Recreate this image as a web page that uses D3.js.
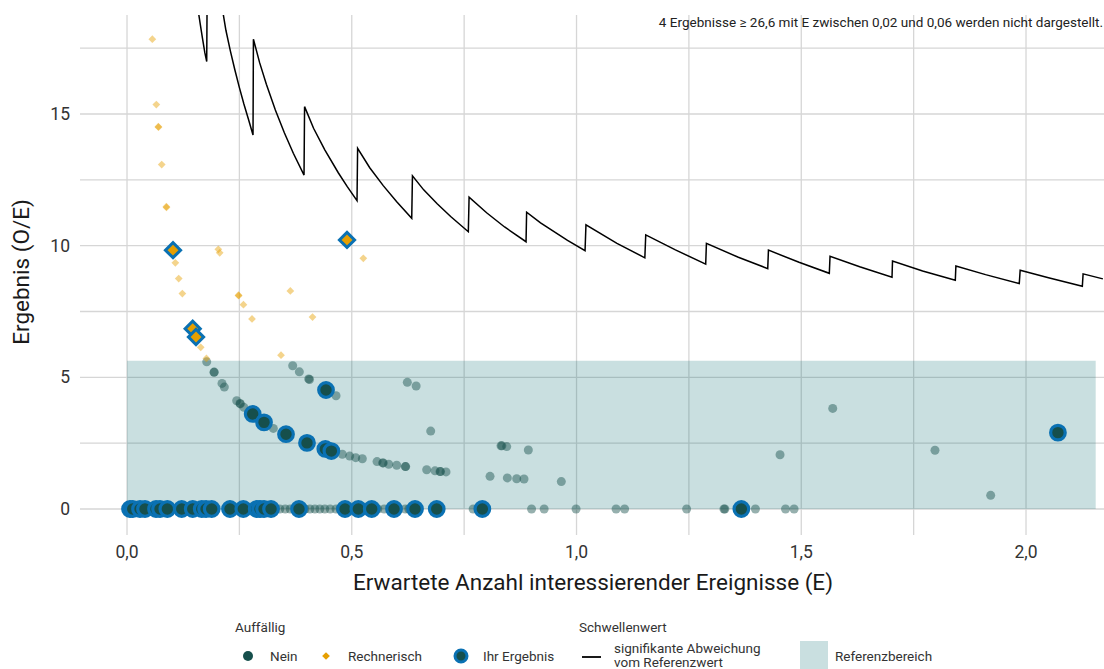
<!DOCTYPE html>
<html><head><meta charset="utf-8">
<script src="https://cdn.jsdelivr.net/npm/d3@7"></script>
<style>
html,body{margin:0;padding:0;background:#fff;}
svg{display:block;font-family:Roboto,"Noto Sans",sans-serif;}
</style></head>
<body><div id="chart"></div>
<script>
// ---------- DATA ----------
const xTicks = [0, 0.5, 1, 1.5, 2];
const xTickLabels = ["0,0", "0,5", "1,0", "1,5", "2,0"];
const yTicks = [0, 5, 10, 15];
const yTickLabels = ["0", "5", "10", "15"];
const xMinor = [0.25, 0.75, 1.25, 1.75];
const yMinor = [2.5, 7.5, 12.5, 17.5];

// Referenzbereich
const refRange = [0, 5.63];
const refE = [0, 2.155];

// Auffällig: Nein (other hospitals, faded)
const neinE = [0.329,0.340,0.352,0.363,0.376,0.396,0.407,0.418,0.429,0.440,0.452,0.465,0.474,0.558,0.572,0.619,0.627,0.770,0.900,0.928,0.999,1.088,1.107,1.245,1.328,1.330,1.398,1.465,1.484,
  0.1773,0.1935,0.1940,0.2113,0.2165,0.244,0.2514,0.2520,0.2600,0.3255,0.3686,0.3834,0.4042,0.4060,0.465,0.479,0.4954,0.5088,0.5235,0.5562,0.5688,0.5700,0.5822,0.600,0.6191,0.6200,0.6236,0.6432,0.6667,0.6852,0.6963,0.6975,0.7097,0.6756,0.8076,0.832,0.834,0.8447,0.8928,0.8461,0.8669,0.8832,0.9662,1.4528,1.570,1.7975,1.9214];
const neinV = [0,0,0,0,0,0,0,0,0,0,0,0,0,0,0,0,0,0,0,0,0,0,0,0,0,0,0,0,0,
  5.59,5.19,5.20,4.77,4.63,4.11,4.01,3.99,3.86,3.06,5.44,5.21,4.94,4.92,4.30,2.08,2.01,1.95,1.91,1.80,1.75,1.75,1.70,1.66,1.61,1.61,4.81,4.67,1.49,1.45,1.42,1.42,1.41,2.96,1.24,2.40,2.40,2.37,2.24,1.18,1.15,1.14,1.04,2.06,3.82,2.23,0.52];

// Auffällig: Rechnerisch (other hospitals, faded)
const rechE = [0.0563,0.0652,0.0697,0.0700,0.0772,0.0875,0.0878,0.1075,0.115,0.1231,0.2031,0.2062,0.2479,0.2485,0.259,0.2781,0.3633,0.4127,0.3426,0.5257,0.1640,0.1766];
const rechV = [17.84,15.36,14.52,14.50,13.08,11.48,11.45,9.35,8.75,8.18,9.86,9.73,8.12,8.10,7.76,7.22,8.28,7.29,5.84,9.52,6.14,5.72];

// Ihr Ergebnis (highlighted)
const ihrNeinE = [0.0067,0.0127,0.0289,0.0400,0.0645,0.0734,0.0897,0.1217,0.1462,0.1662,0.1758,0.1884,0.2291,0.2587,0.2885,0.2959,0.3048,0.3204,0.3826,0.4850,0.5146,0.5444,0.5940,0.6407,0.6890,0.7905,1.3667,
  0.2796,0.3048,0.3537,0.4004,0.4412,0.4546,0.4427,2.071];
const ihrNeinV = [0,0,0,0,0,0,0,0,0,0,0,0,0,0,0,0,0,0,0,0,0,0,0,0,0,0,0,
  3.61,3.29,2.84,2.51,2.28,2.20,4.52,2.90];
const ihrRechE = [0.1023,0.4894,0.1461,0.1535];
const ihrRechV = [9.83,10.22,6.85,6.53];

// Schwellenwert (sawtooth line), NaN = break
const threshE = [0.1586,0.163,0.168,0.173,0.1773,0.1780,NaN,
  0.2130,0.22,0.23,0.24,0.25,0.26,0.27,0.2803,
  0.2812,0.295,0.31,0.33,0.35,0.37,0.3938,
  0.3950,0.415,0.44,0.47,0.49,0.5117,
  0.513,0.54,0.57,0.60,0.6334,
  0.635,0.66,0.69,0.72,0.7593,
  0.761,0.80,0.84,0.8877,
  0.889,0.92,0.95,0.98,1.019,
  1.021,1.09,1.152,1.154,1.22,1.2874,1.289,1.36,1.4254,1.427,1.495,1.5624,1.564,1.63,1.7019,1.703,1.77,1.8427,1.844,1.91,1.985,1.987,2.05,2.1253,2.127,2.171];
const threshV = [18.9,18.4,17.86,17.34,16.99,18.9,NaN,
  18.9,18.18,17.39,16.67,16.0,15.38,14.81,14.2,
  17.84,16.95,16.13,15.15,14.29,13.51,12.68,
  15.28,14.46,13.64,12.77,12.24,11.71,
  13.70,12.96,12.28,11.67,11.04,
  12.65,12.12,11.59,11.11,10.53,
  11.84,11.25,10.71,10.15,
  11.27,10.87,10.53,10.2,9.81,
  10.79,10.09,9.54,10.41,9.84,9.30,10.09,9.56,9.13,9.83,9.37,8.95,9.60,9.2,8.80,9.42,9.04,8.69,9.23,8.9,8.56,9.07,8.78,8.46,8.93,8.74];

const noteText = "4 Ergebnisse \u2265 26,6 mit E zwischen 0,02 und 0,06 werden nicht dargestellt.";
const xTitle = "Erwartete Anzahl interessierender Ereignisse (E)";
const yTitle = "Ergebnis (O/E)";

// ---------- STYLE ----------
const W = 1104, H = 669;
const P = {l: 80, r: 1104, t: 15, b: 535};
const C = {green: "#164f4c", blue: "#0a71b3", orange: "#e69f00", grid: "#d6d6d6", text: "#333333"};

const svg = d3.select("#chart").append("svg").attr("width", W).attr("height", H);
const x = d3.scaleLinear().domain([-0.1046, 2.1735]).range([P.l, P.r]);
const y = d3.scaleLinear().domain([-0.987, 18.76]).range([P.b, P.t]);

svg.append("defs").append("clipPath").attr("id", "panel")
  .append("rect").attr("x", P.l).attr("y", P.t).attr("width", P.r - P.l).attr("height", P.b - P.t);

// grid
const g = svg.append("g");
g.selectAll(".vx").data(xTicks.concat(xMinor)).join("line")
  .attr("x1", d => x(d)).attr("x2", d => x(d)).attr("y1", P.t).attr("y2", P.b)
  .attr("stroke", C.grid).attr("stroke-width", 1.3);
g.selectAll(".hy").data(yTicks.concat(yMinor)).join("line")
  .attr("y1", d => y(d)).attr("y2", d => y(d)).attr("x1", P.l).attr("x2", P.r)
  .attr("stroke", C.grid).attr("stroke-width", 1.3);

// reference area
svg.append("rect")
  .attr("x", x(refE[0])).attr("width", x(refE[1]) - x(refE[0]))
  .attr("y", y(refRange[1])).attr("height", y(refRange[0]) - y(refRange[1]))
  .attr("fill", "rgb(0,102,107)").attr("fill-opacity", 0.21);

const plot = svg.append("g").attr("clip-path", "url(#panel)");

// threshold line
const thresh = threshE.map((e, i) => [e, threshV[i]]);
plot.append("path").datum(thresh)
  .attr("d", d3.line().defined(d => !isNaN(d[0]) && !isNaN(d[1])).x(d => x(d[0])).y(d => y(d[1])))
  .attr("fill", "none").attr("stroke", "#000").attr("stroke-width", 1.5).attr("stroke-linejoin", "miter");

const diamond = (size) => d3.symbol().type(d3.symbolSquare).size(size)();

// faded points
plot.selectAll(".nein").data(neinE.map((e, i) => [e, neinV[i]])).join("circle")
  .attr("cx", d => x(d[0])).attr("cy", d => y(d[1])).attr("r", 4.5)
  .attr("fill", C.green).attr("fill-opacity", 0.45);
plot.selectAll(".rech").data(rechE.map((e, i) => [e, rechV[i]])).join("path")
  .attr("d", diamond(30))
  .attr("transform", d => `translate(${x(d[0])},${y(d[1])}) rotate(45)`)
  .attr("fill", C.orange).attr("fill-opacity", 0.45);

// highlighted
plot.selectAll(".ihrN").data(ihrNeinE.map((e, i) => [e, ihrNeinV[i]])).join("circle")
  .attr("cx", d => x(d[0])).attr("cy", d => y(d[1])).attr("r", 7.3)
  .attr("fill", C.green).attr("stroke", C.blue).attr("stroke-width", 3.2);
plot.selectAll(".ihrR").data(ihrRechE.map((e, i) => [e, ihrRechV[i]])).join("path")
  .attr("d", diamond(115))
  .attr("transform", d => `translate(${x(d[0])},${y(d[1])}) rotate(45)`)
  .attr("fill", C.orange).attr("stroke", C.blue).attr("stroke-width", 3);

// axes labels
svg.append("g").selectAll("text").data(xTicks).join("text")
  .attr("x", d => x(d)).attr("y", 558).attr("text-anchor", "middle")
  .attr("font-size", 17.5).attr("fill", C.text).text((d, i) => xTickLabels[i]);
svg.append("g").selectAll("text").data(yTicks).join("text")
  .attr("x", 70).attr("y", d => y(d) + 6).attr("text-anchor", "end")
  .attr("font-size", 17.5).attr("fill", C.text).text((d, i) => yTickLabels[i]);

svg.append("text").attr("x", (P.l + P.r) / 2 + 1).attr("y", 590).attr("text-anchor", "middle")
  .attr("font-size", 22.5).attr("fill", "#1a1a1a").text(xTitle);
svg.append("text").attr("transform", `translate(29,${(P.t + P.b) / 2 - 3}) rotate(-90)`)
  .attr("text-anchor", "middle").attr("font-size", 22.5).attr("fill", "#1a1a1a").text(yTitle);

// note
svg.append("text").attr("x", 1103).attr("y", 27).attr("text-anchor", "end")
  .attr("font-size", 13.5).attr("fill", "#222").text(noteText);

// legend
const L = svg.append("g").attr("font-size", 13.5).attr("fill", C.text);
L.append("text").attr("x", 235).attr("y", 632).text("Auffällig");
L.append("circle").attr("cx", 248).attr("cy", 656).attr("r", 5).attr("fill", C.green);
L.append("text").attr("x", 270).attr("y", 661).text("Nein");
L.append("path").attr("d", diamond(30)).attr("transform", "translate(326,656) rotate(45)").attr("fill", C.orange);
L.append("text").attr("x", 348).attr("y", 661).text("Rechnerisch");
L.append("circle").attr("cx", 461).attr("cy", 656).attr("r", 6).attr("fill", C.green).attr("stroke", C.blue).attr("stroke-width", 3);
L.append("text").attr("x", 483).attr("y", 661).text("Ihr Ergebnis");
L.append("text").attr("x", 579).attr("y", 632).text("Schwellenwert");
L.append("line").attr("x1", 582).attr("x2", 601).attr("y1", 657).attr("y2", 657).attr("stroke", "#000").attr("stroke-width", 1.8);
L.append("text").attr("x", 614).attr("y", 653).text("signifikante Abweichung");
L.append("text").attr("x", 614).attr("y", 667).text("vom Referenzwert");
L.append("rect").attr("x", 800).attr("y", 641).attr("width", 28).attr("height", 28).attr("fill", "rgb(0,102,107)").attr("fill-opacity", 0.21);
L.append("text").attr("x", 835).attr("y", 661).text("Referenzbereich");
</script></body></html>
